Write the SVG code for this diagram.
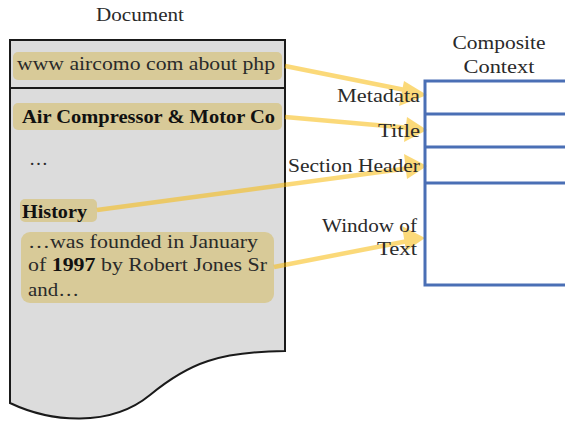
<svg xmlns="http://www.w3.org/2000/svg" width="565" height="422" viewBox="0 0 565 422" font-family="Liberation Serif, serif">
<style>
text{font-size:19px;fill:#2a2a2a}
.b{font-weight:bold;fill:#111}
.r{text-anchor:end}
.m{text-anchor:middle}
.hl{fill:#d8ca98}
.arr line{stroke:#f9b800;stroke-width:4.5}
.arr polygon{fill:#f9b800}
.arr g{opacity:0.52}
.box{fill:none;stroke:#4a6fb5;stroke-width:3}
</style>
<rect width="565" height="422" fill="#fff"/>
<g id="document">
<text class="m" x="140" y="21" textLength="88" lengthAdjust="spacingAndGlyphs">Document</text>
<path d="M10,40 H285 V351 C220,352 190,362 150,395 C110,428 50,422 10,403 Z" fill="#dcdcdc" stroke="#1a1a1a" stroke-width="2"/>
<line x1="10" y1="88" x2="285" y2="88" stroke="#1a1a1a" stroke-width="2"/>
</g>
<g id="url">
<rect class="hl" x="13" y="52" width="269" height="28" rx="5"/>
<text x="17" y="70" textLength="258" lengthAdjust="spacingAndGlyphs">www aircomo com about php</text>
</g>
<g id="title">
<rect class="hl" x="13" y="103" width="269" height="27" rx="5"/>
<text class="b" x="22" y="123" textLength="253" lengthAdjust="spacingAndGlyphs">Air Compressor &amp; Motor Co</text>
</g>
<g id="ellipsis">
<text x="29" y="165">…</text>
</g>
<g id="history">
<rect class="hl" x="20" y="199" width="77" height="23" rx="5"/>
<text class="b" x="22" y="218" textLength="65" lengthAdjust="spacingAndGlyphs">History</text>
</g>
<g id="paragraph">
<rect class="hl" x="21" y="232" width="253" height="71" rx="9"/>
<text x="28" y="248" textLength="230" lengthAdjust="spacingAndGlyphs">…was founded in January</text>
<text x="28" y="271" textLength="239" lengthAdjust="spacingAndGlyphs">of <tspan class="b">1997</tspan> by Robert Jones Sr</text>
<text x="28" y="296" textLength="51" lengthAdjust="spacingAndGlyphs">and…</text>
</g>
<g id="connectors" class="arr">
<g><line x1="285" y1="66" x2="410" y2="91"/><polygon points="427,95 404,81 399,106"/></g>
<g><line x1="285" y1="117" x2="410" y2="128"/><polygon points="427,130 407,117 404,142"/></g>
<g><line x1="97" y1="210" x2="410" y2="168"/><polygon points="427,166 404,154 407,179"/></g>
<g><line x1="274" y1="267" x2="408" y2="241"/><polygon points="425,238 402,226 406,251"/></g>
</g>
<g id="composite">
<text class="m" x="499" y="49" textLength="93" lengthAdjust="spacingAndGlyphs">Composite</text>
<text class="m" x="499" y="73" textLength="71" lengthAdjust="spacingAndGlyphs">Context</text>
<rect class="box" x="425" y="81" width="150" height="204"/>
<line class="box" x1="425" y1="114" x2="565" y2="114"/>
<line class="box" x1="425" y1="147" x2="565" y2="147"/>
<line class="box" x1="425" y1="183" x2="565" y2="183"/>
<text class="r" x="420" y="102" textLength="83" lengthAdjust="spacingAndGlyphs">Metadata</text>
<text class="r" x="420" y="137" textLength="42" lengthAdjust="spacingAndGlyphs">Title</text>
<text class="r" x="420" y="172" textLength="132" lengthAdjust="spacingAndGlyphs">Section Header</text>
<text class="r" x="417" y="232" textLength="95" lengthAdjust="spacingAndGlyphs">Window of</text>
<text class="r" x="417" y="255" textLength="40" lengthAdjust="spacingAndGlyphs">Text</text>
</g>
</svg>
